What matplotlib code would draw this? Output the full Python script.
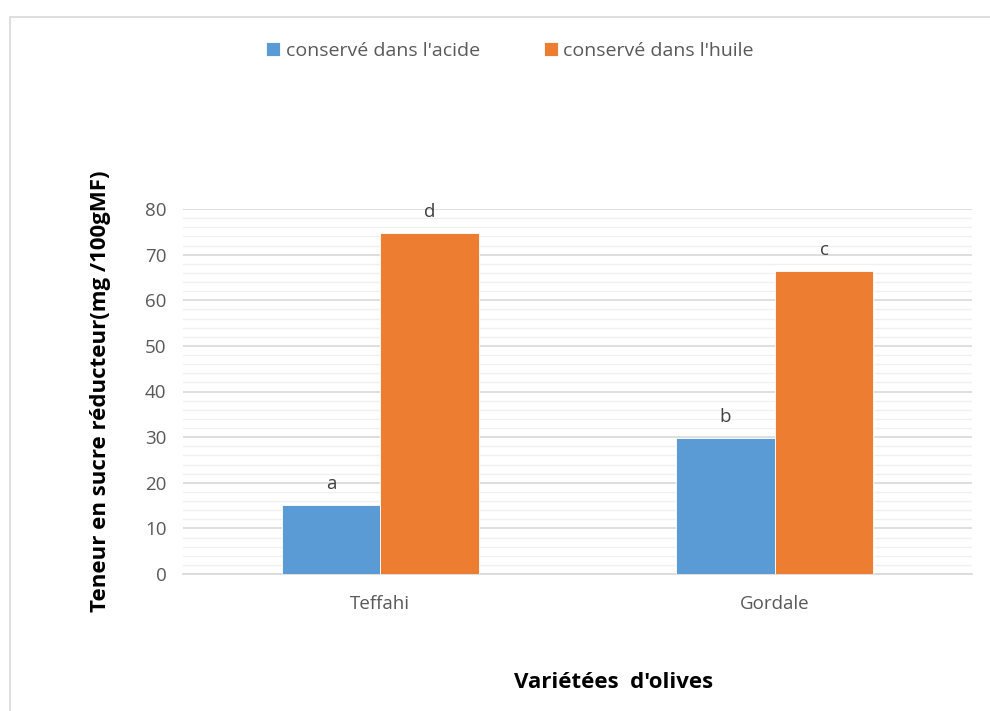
import matplotlib
matplotlib.use("Agg")
import matplotlib.pyplot as plt
from matplotlib.patches import Rectangle
import numpy as np

varieties = ["Teffahi", "Gordale"]
acid_values = [15.1, 29.8]
oil_values = [74.7, 66.4]
acid_letters = ["a", "b"]
oil_letters = ["d", "c"]
series_names = ["conservé dans l'acide", "conservé dans l'huile"]

blue = "#5B9BD5"
orange = "#ED7D31"
text_gray = "#595959"

plt.rcParams["font.family"] = ["Open Sans", "DejaVu Sans"]

fig = plt.figure(figsize=(9.9, 7.11), dpi=100)
fig.patch.set_facecolor("white")

# light frame around the chart area
fig.add_artist(Rectangle((10 / 990, -0.01), 1.0, 1 - 17 / 711 + 0.01,
                         transform=fig.transFigure, fill=False,
                         edgecolor="#D9D9D9", linewidth=1.2))

ax = fig.add_axes([183 / 990, 1 - 574 / 711, (972 - 183) / 990, (574 - 209) / 711])

x = np.arange(len(varieties))
w = 0.25
b1 = ax.bar(x - w / 2, acid_values, w, color=blue, label=series_names[0], zorder=3,
            edgecolor="white", linewidth=0.6)
b2 = ax.bar(x + w / 2, oil_values, w, color=orange, label=series_names[1], zorder=3,
            edgecolor="white", linewidth=0.6)

for bars, letters in ((b1, acid_letters), (b2, oil_letters)):
    for rect, letter in zip(bars, letters):
        ax.annotate(letter, (rect.get_x() + rect.get_width() / 2, rect.get_height()),
                    xytext=(0, 9), textcoords="offset points", ha="center",
                    va="bottom", fontsize=13.5, color="#404040")

ax.set_xlim(-0.5, 1.5)
ax.set_ylim(0, 80)
ax.set_yticks(np.arange(0, 81, 10))
ax.set_yticks(np.arange(0, 81, 2), minor=True)
ax.grid(axis="y", which="major", color="#D9D9D9", linewidth=1.2, zorder=0)
ax.grid(axis="y", which="minor", color="#F0F0F0", linewidth=1.0, zorder=0)
ax.set_xticks(x)
ax.set_xticklabels(varieties)
ax.tick_params(axis="both", which="both", length=0, colors=text_gray, labelsize=13.5)
ax.tick_params(axis="x", pad=15)
ax.tick_params(axis="y", pad=12)
for s in ("top", "right", "left"):
    ax.spines[s].set_visible(False)
ax.spines["bottom"].set_color("#D9D9D9")
ax.spines["bottom"].set_linewidth(1.2)

ax.set_ylabel("Teneur en sucre réducteur(mg /100gMF)", fontsize=16,
              fontweight="bold", color="black", labelpad=24)
fig.text(614 / 990, 1 - 682 / 711, "Variétées  d'olives", ha="center", va="center",
         fontsize=16, fontweight="bold", color="black")

fig.legend(handles=[b1, b2], labels=series_names, loc="center",
           bbox_to_anchor=(510 / 990, 1 - 51 / 711), ncol=2, frameon=False,
           fontsize=14, handlelength=0.7, handleheight=0.7, handletextpad=0.3,
           columnspacing=3.3, labelcolor=text_gray)

fig.savefig("out.png", dpi=100)
